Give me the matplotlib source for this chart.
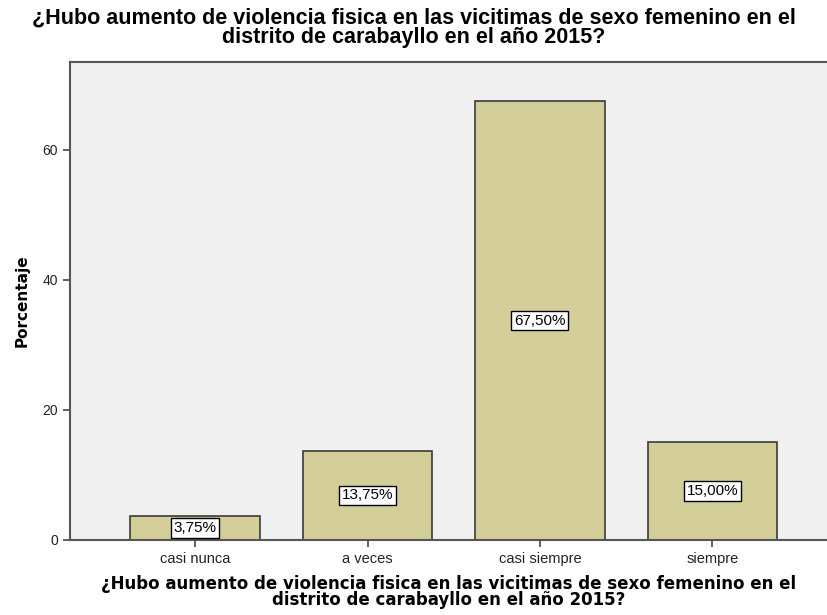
import matplotlib
matplotlib.use('Agg')
import matplotlib.pyplot as plt

categorias = ['casi nunca', 'a veces', 'casi siempre', 'siempre']
porcentajes = [3.75, 13.75, 67.5, 15.0]
etiquetas = ['3,75%', '13,75%', '67,50%', '15,00%']
yticks = [0, 20, 40, 60]
titulo = '¿Hubo aumento de violencia fisica en las vicitimas de sexo femenino en el\ndistrito de carabayllo en el año 2015?'

fig = plt.figure(figsize=(8.27, 6.15), dpi=100)
ax = fig.add_axes([0.0846, 0.122, 0.9154, 0.777])
ax.set_facecolor('#F0F0F0')

x = range(len(categorias))
ax.bar(x, porcentajes, width=0.75, color='#D3CE97', edgecolor='#3A3A3A', linewidth=1.2, zorder=2)
for xi, v, t in zip(x, porcentajes, etiquetas):
    ax.text(xi, v / 2, t, ha='center', va='center', fontsize=11, family='Liberation Sans',
            bbox=dict(facecolor='white', edgecolor='black', boxstyle='square,pad=0.18', linewidth=1), zorder=3)

ax.set_xlim(-0.725, 3.664)
ax.set_ylim(0, 73.5)
ax.set_xticks(list(x))
ax.set_xticklabels(categorias, fontsize=10.5, family='Liberation Sans', color='#222222')
ax.set_yticks(yticks)
ax.set_yticklabels([str(t) for t in yticks], fontsize=10, family='Liberation Sans', color='#222222')
ax.tick_params(length=5, width=1.2, color='#444444')

for s in ['left', 'bottom', 'top']:
    ax.spines[s].set_color('#555555')
    ax.spines[s].set_linewidth(1.5)
ax.spines['right'].set_visible(False)

ax.set_ylabel('Porcentaje', fontsize=11, fontweight='bold', family='DejaVu Sans', labelpad=9)
ax.set_xlabel(titulo, fontsize=12, fontweight='bold', family='DejaVu Sans', labelpad=7, linespacing=0.85)
fig.text(0.5, 0.988, titulo, ha='center', va='top', fontsize=15.5, fontweight='bold',
         family='Liberation Sans', linespacing=0.9)

fig.savefig('out.png', dpi=100)
